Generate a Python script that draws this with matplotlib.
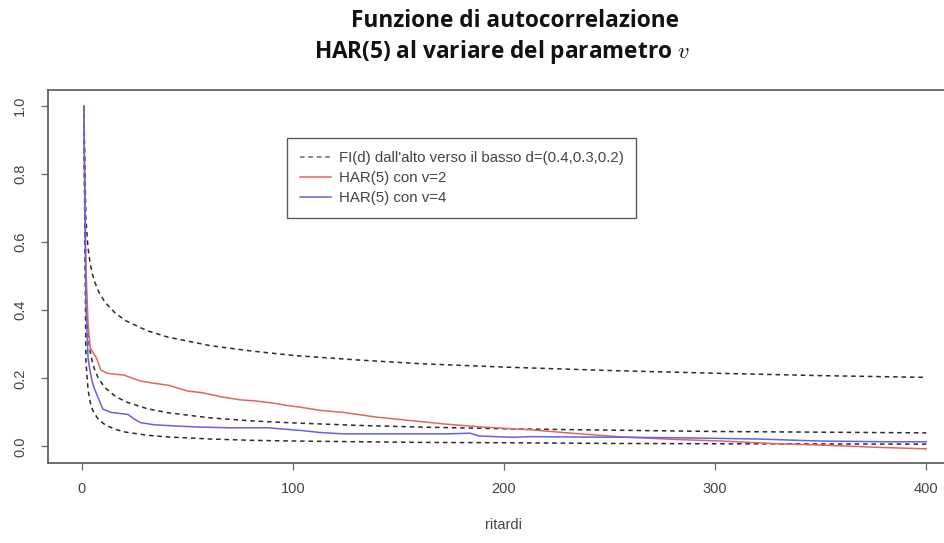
import matplotlib
matplotlib.use("Agg")
import matplotlib.pyplot as plt

# Lag index (1 = lag 0) and autocorrelation values of the FI(d) processes
fi_lags = [1, 2, 3, 4, 5, 6, 8, 11, 16, 21, 31, 41, 61, 81, 101, 131, 161,
           201, 251, 301, 351, 400]
fi_d04 = [1.0, 0.667, 0.583, 0.538, 0.508, 0.486, 0.455, 0.424, 0.391, 0.369,
          0.340, 0.321, 0.296, 0.280, 0.267, 0.254, 0.243, 0.233, 0.223, 0.215,
          0.208, 0.203]
fi_d03 = [1.0, 0.429, 0.328, 0.279, 0.249, 0.228, 0.199, 0.173, 0.147, 0.131,
          0.111, 0.099, 0.084, 0.075, 0.069, 0.062, 0.057, 0.052, 0.048, 0.044,
          0.042, 0.040]
fi_d02 = [1.0, 0.250, 0.167, 0.131, 0.110, 0.097, 0.079, 0.064, 0.050, 0.042,
          0.033, 0.028, 0.022, 0.018, 0.016, 0.014, 0.012, 0.011, 0.009, 0.008,
          0.0075, 0.007]

# HAR(5) sample autocorrelation, v = 2
har2_lags = [1, 2, 3, 4, 5, 7, 9, 12, 16, 20, 25, 28, 35, 41, 50, 57, 66, 75,
             82, 90, 98, 104, 113, 124, 140, 156, 172, 188, 204, 213, 230, 256,
             280, 303, 330, 355, 375, 400]
har2 = [1.0, 0.53, 0.36, 0.29, 0.28, 0.26, 0.225, 0.215, 0.212, 0.210, 0.198,
        0.192, 0.185, 0.180, 0.163, 0.158, 0.146, 0.137, 0.134, 0.128, 0.120,
        0.115, 0.106, 0.100, 0.086, 0.076, 0.066, 0.058, 0.052, 0.049, 0.040,
        0.028, 0.021, 0.016, 0.008, 0.003, -0.002, -0.007]

# HAR(5) sample autocorrelation, v = 4
har4_lags = [1, 2, 3, 4, 5, 6, 8, 10, 14, 18, 22, 25, 28, 34, 45, 56, 70, 88,
             98, 104, 113, 124, 140, 156, 172, 184, 188, 204, 213, 230, 260,
             290, 320, 350, 380, 400]
har4 = [1.0, 0.42, 0.26, 0.22, 0.19, 0.17, 0.14, 0.11, 0.100, 0.097, 0.094,
        0.080, 0.070, 0.064, 0.060, 0.057, 0.055, 0.055, 0.050, 0.047, 0.041,
        0.037, 0.037, 0.037, 0.037, 0.039, 0.031, 0.027, 0.029, 0.028, 0.027,
        0.025, 0.022, 0.016, 0.014, 0.014]

x_ticks = [0, 100, 200, 300, 400]
y_ticks = [0.0, 0.2, 0.4, 0.6, 0.8, 1.0]
y_ticklabels = ["0.0", "0.2", "0.4", "0.6", "0.8", "1.0"]

legend_labels = ["FI(d) dall'alto verso il basso d=(0.4,0.3,0.2)",
                 "HAR(5) con v=2", "HAR(5) con v=4"]

W, H = 945, 543
fig = plt.figure(figsize=(W / 100, H / 100), dpi=100, facecolor="white")
plt.rcParams["mathtext.fontset"] = "cm"

left, right, top, bottom = 48, 960, 90, 462.5
ax = fig.add_axes([left / W, 1 - bottom / H, (right - left) / W, (bottom - top) / H])

dash = (0, (3, 2.5))
dark = "#2b2b2b"
red = "#e46366"
blue = "#6262e4"

ax.plot(fi_lags, fi_d04, color=dark, lw=1.1, ls=dash)
ax.plot(fi_lags, fi_d03, color=dark, lw=1.1, ls=dash)
ax.plot(fi_lags, fi_d02, color=dark, lw=1.1, ls=dash)
ax.plot(har2_lags, har2, color=red, lw=1.1)
ax.plot(har4_lags, har4, color=blue, lw=1.1)

ax.set_xlim(-15.96, 415.96)
ax.set_ylim(-0.047, 1.047)

txt = "#444444"
for s in ax.spines.values():
    s.set_color("#555555")
    s.set_linewidth(1.2)

ax.set_xticks(x_ticks)
ax.set_xticklabels([str(t) for t in x_ticks])
ax.set_yticks(y_ticks)
ax.set_yticklabels(y_ticklabels, rotation=90, va="center")
ax.tick_params(axis="both", direction="out", length=5, width=0.9,
               colors="#666666", labelcolor=txt, labelsize=10.5,
               labelfontfamily="Liberation Sans")
ax.tick_params(axis="x", pad=9)
ax.tick_params(axis="y", pad=10)

fig.text((48 + 960) / 2 / W, 1 - 525 / H, "ritardi", ha="center", va="center",
         fontsize=10.5, color=txt, family="Liberation Sans")

# Two-line title
fig.text(515 / W, 1 - 27 / H, "Funzione di autocorrelazione", ha="center",
         va="baseline", fontsize=16.3, fontweight="bold", color="#111111",
         family="Open Sans")
fig.text(502 / W, 1 - 58 / H, r"HAR(5) al variare del parametro $v$",
         ha="center", va="baseline", fontsize=16.3, fontweight="bold",
         color="#111111", family="Open Sans")

handles = [
    plt.Line2D([], [], color="#666666", lw=1.1, ls=dash),
    plt.Line2D([], [], color=red, lw=1.1),
    plt.Line2D([], [], color=blue, lw=1.1),
]
leg = fig.legend(handles, legend_labels, loc="upper left",
                 bbox_to_anchor=(287 / W, 1 - 138 / H),
                 bbox_transform=fig.transFigure, frameon=True, fancybox=False,
                 borderaxespad=0, borderpad=0.85, labelspacing=0.4,
                 handlelength=2.1, handletextpad=0.5,
                 prop={"family": "Liberation Sans", "size": 10.8})
leg.get_frame().set_edgecolor("#333333")
leg.get_frame().set_linewidth(1.0)
for t in leg.get_texts():
    t.set_color(txt)

fig.savefig("out.png", dpi=100, facecolor="white")
